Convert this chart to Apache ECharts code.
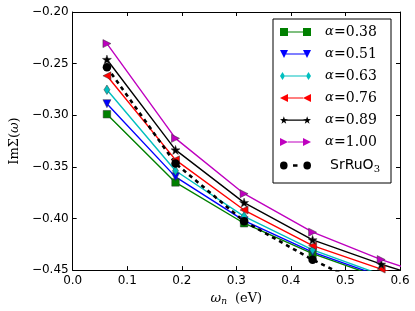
<!DOCTYPE html>
<html>
<head>
<meta charset="utf-8">
<script src="https://cdn.jsdelivr.net/npm/echarts@6/dist/echarts.min.js"></script>
<style>
html,body{margin:0;padding:0;background:#fff;}
#chart{width:415px;height:311px;}
</style>
</head>
<body>
<div id="chart"></div>
<script>
// Matsubara frequencies (eV)
const omega = [0.0628, 0.1885, 0.3142, 0.4398, 0.5655, 0.6912];
const alpha038 = [-0.2990, -0.3651, -0.4046, -0.4340, -0.4576, -0.4790];
const alpha051 = [-0.2888, -0.3597, -0.4021, -0.4326, -0.4561, -0.4770];
const alpha063 = [-0.2753, -0.3538, -0.3979, -0.4304, -0.4545, -0.4750];
const alpha076 = [-0.2618, -0.3432, -0.3918, -0.4263, -0.4490, -0.4700];
const alpha089 = [-0.2460, -0.3336, -0.3846, -0.4207, -0.4443, -0.4650];
const alpha100 = [-0.2306, -0.3224, -0.3760, -0.4133, -0.4398, -0.4624];
const srruo3   = [-0.2535, -0.3467, -0.4027, -0.4400, -0.4720];
const seriesNames = ['α=0.38','α=0.51','α=0.63','α=0.76','α=0.89','α=1.00','SrRuO3'];
const xTicks = [0.0, 0.1, 0.2, 0.3, 0.4, 0.5, 0.6];
const yTicks = [-0.45, -0.40, -0.35, -0.30, -0.25, -0.20];

function pairs(xs, ys){ return ys.map((y,i)=>[xs[i], y]); }

const STAR = 'path://M5 0L6.18 3.38L9.76 3.45L6.9 5.62L7.94 9.05L5 7L2.06 9.05L3.1 5.62L0.24 3.45L3.82 3.38Z';
const SYM = {
  square: 'path://M0 0L10 0L10 10L0 10Z',
  down: 'path://M0 0L10 0L5 10Z',
  diamond: 'path://M3 0L6 5L3 10L0 5Z',
  left: 'path://M0 5L10 0L10 10Z',
  right: 'path://M0 0L10 5L0 10Z'
};
const ICON = {
  square: 'path://M0 0h8v8h-8Z M23 0h8v8h-8Z M8 3.5h15v1h-15Z',
  down: 'path://M0 0h8l-4 8Z M23 0h8l-4 8Z M6 3.5h19v1h-19Z',
  diamond: 'path://M0 4l2.5-4l2.5 4l-2.5 4Z M26 4l2.5-4l2.5 4l-2.5 4Z M5 3.5h21v1h-21Z',
  left: 'path://M0 4l8-4v8Z M23 4l8-4v8Z M8 3.5h15v1h-15Z',
  star: 'path://M4 0L4.94 2.7L7.8 2.76L5.52 4.5L6.35 7.24L4 5.6L1.65 7.24L2.48 4.5L0.2 2.76L3.06 2.7Z M27 0L27.94 2.7L30.8 2.76L28.52 4.5L29.35 7.24L27 5.6L24.65 7.24L25.48 4.5L23.2 2.76L26.06 2.7Z M6 3.2h19v1.2h-19Z',
  right: 'path://M0 0l8 4l-8 4Z M23 0l8 4l-8 4Z M8 3.5h15v1h-15Z',
  circle: 'path://M0 4a3.8 4 0 1 0 7.6 0a3.8 4 0 1 0 -7.6 0Z M23.4 4a3.8 4 0 1 0 7.6 0a3.8 4 0 1 0 -7.6 0Z M13 2.7h4.5v2.6h-4.5Z'
};

const specs = [
  {data: alpha038, color: '#008000', sym: SYM.square, size: 7.5},
  {data: alpha051, color: '#0000ff', sym: SYM.down, size: 8},
  {data: alpha063, color: '#00bfbf', sym: SYM.diamond, size: [6, 9.5]},
  {data: alpha076, color: '#ff0000', sym: SYM.left, size: 8},
  {data: alpha089, color: '#000000', sym: STAR, size: 9},
  {data: alpha100, color: '#bf00bf', sym: SYM.right, size: 8}
];

const series = specs.map((s, i) => ({
  name: seriesNames[i],
  type: 'line',
  data: pairs(omega, s.data),
  symbol: s.sym,
  symbolSize: s.size,
  showSymbol: true,
  clip: true,
  color: s.color,
  lineStyle: {color: s.color, width: 1.4},
  itemStyle: {color: s.color, borderColor: '#333', borderWidth: 0.5},
  emphasis: {disabled: true},
  animation: false
}));
series.push({
  name: seriesNames[6],
  type: 'line',
  data: pairs(omega, srruo3),
  symbol: 'circle',
  symbolSize: 8.5,
  clip: true,
  color: '#000',
  lineStyle: {color: '#000', width: 2.6, type: [4, 4]},
  itemStyle: {color: '#000'},
  emphasis: {disabled: true},
  animation: false
});

const icons = [ICON.square, ICON.down, ICON.diamond, ICON.left, ICON.star, ICON.right, ICON.circle];
const serif = 'DejaVu Serif';

const chart = echarts.init(document.getElementById('chart'), null, {renderer: 'canvas'});
chart.setOption({
  animation: false,
  backgroundColor: '#fff',
  grid: {left: 66, right: 15, top: 12, bottom: 40, containLabel: false},
  xAxis: [{
    type: 'value', min: 0, max: 0.6, interval: 0.1,
    axisLine: {show: true, onZero: false, lineStyle: {color: '#000', width: 1}},
    axisTick: {show: true, inside: true, length: 4, lineStyle: {color: '#000'}},
    splitLine: {show: false},
    axisLabel: {margin: 5, color: '#000', fontFamily: 'DejaVu Sans', fontSize: 12,
      formatter: v => v.toFixed(1)},
    name: '{w|ω}{n|n}{t|(eV)}',
    nameLocation: 'middle', nameGap: 17,
    nameTextStyle: {rich: {
      w: {fontFamily: serif, fontStyle: 'italic', fontSize: 13, color: '#000'},
      n: {fontFamily: serif, fontStyle: 'italic', fontSize: 9, color: '#000', verticalAlign: 'bottom', padding: [6,0,0,0]},
      t: {fontFamily: serif, fontSize: 13, color: '#000', padding: [0,0,0,8]}
    }}
  }, {
    type: 'value', min: 0, max: 0.6, interval: 0.1, position: 'top',
    axisLine: {show: true, onZero: false, lineStyle: {color: '#000', width: 1}},
    axisTick: {show: true, inside: true, length: 4, lineStyle: {color: '#000'}},
    axisLabel: {show: false}, splitLine: {show: false}
  }],
  yAxis: [{
    type: 'value', min: -0.45, max: -0.20, interval: 0.05,
    axisLine: {show: true, onZero: false, lineStyle: {color: '#000', width: 1}},
    axisTick: {show: true, inside: true, length: 4, lineStyle: {color: '#000'}},
    splitLine: {show: false},
    axisLabel: {margin: 4, color: '#000', fontFamily: 'DejaVu Sans', fontSize: 12,
      formatter: v => '\u2212' + Math.abs(v).toFixed(2)},
    name: '{r|ImΣ(}{w|ω}{r|)}',
    nameLocation: 'middle', nameRotate: 90, nameGap: 47,
    nameTextStyle: {rich: {
      r: {fontFamily: serif, fontSize: 13, color: '#000'},
      w: {fontFamily: serif, fontStyle: 'italic', fontSize: 13, color: '#000'}
    }}
  }, {
    type: 'value', min: -0.45, max: -0.20, interval: 0.05, position: 'right',
    axisLine: {show: true, onZero: false, lineStyle: {color: '#000', width: 1}},
    axisTick: {show: true, inside: true, length: 4, lineStyle: {color: '#000'}},
    axisLabel: {show: false}, splitLine: {show: false}
  }],
  legend: {
    orient: 'vertical',
    left: 273, top: 19,
    padding: [6, 11, 9, 7],
    backgroundColor: '#fff',
    borderColor: '#000', borderWidth: 1,
    itemWidth: 31, itemHeight: 8, itemGap: 8,
    selectedMode: false,
    itemStyle: {borderWidth: 0},
    data: seriesNames.map((n, i) => ({name: n, icon: icons[i]})),
    formatter: name => {
      if (name === 'SrRuO3') return '{s|SrRuO}{sub|3}';
      return '{g|α}{e|=' + name.split('=')[1] + '}';
    },
    textStyle: {
      rich: {
        g: {fontFamily: serif, fontStyle: 'italic', fontSize: 13, color: '#000', lineHeight: 16, width: 9, padding: [0, 0, 0, 9]},
        e: {fontFamily: serif, fontSize: 14, color: '#000', lineHeight: 16, width: 46},
        s: {fontFamily: 'DejaVu Sans', fontSize: 14, color: '#000', lineHeight: 16, padding: [0, 0, 0, 14]},
        sub: {fontFamily: serif, fontSize: 10, color: '#000', lineHeight: 16, padding: [7, 0, 0, 0]}
      }
    }
  },
  series: series
});
</script>
</body>
</html>
